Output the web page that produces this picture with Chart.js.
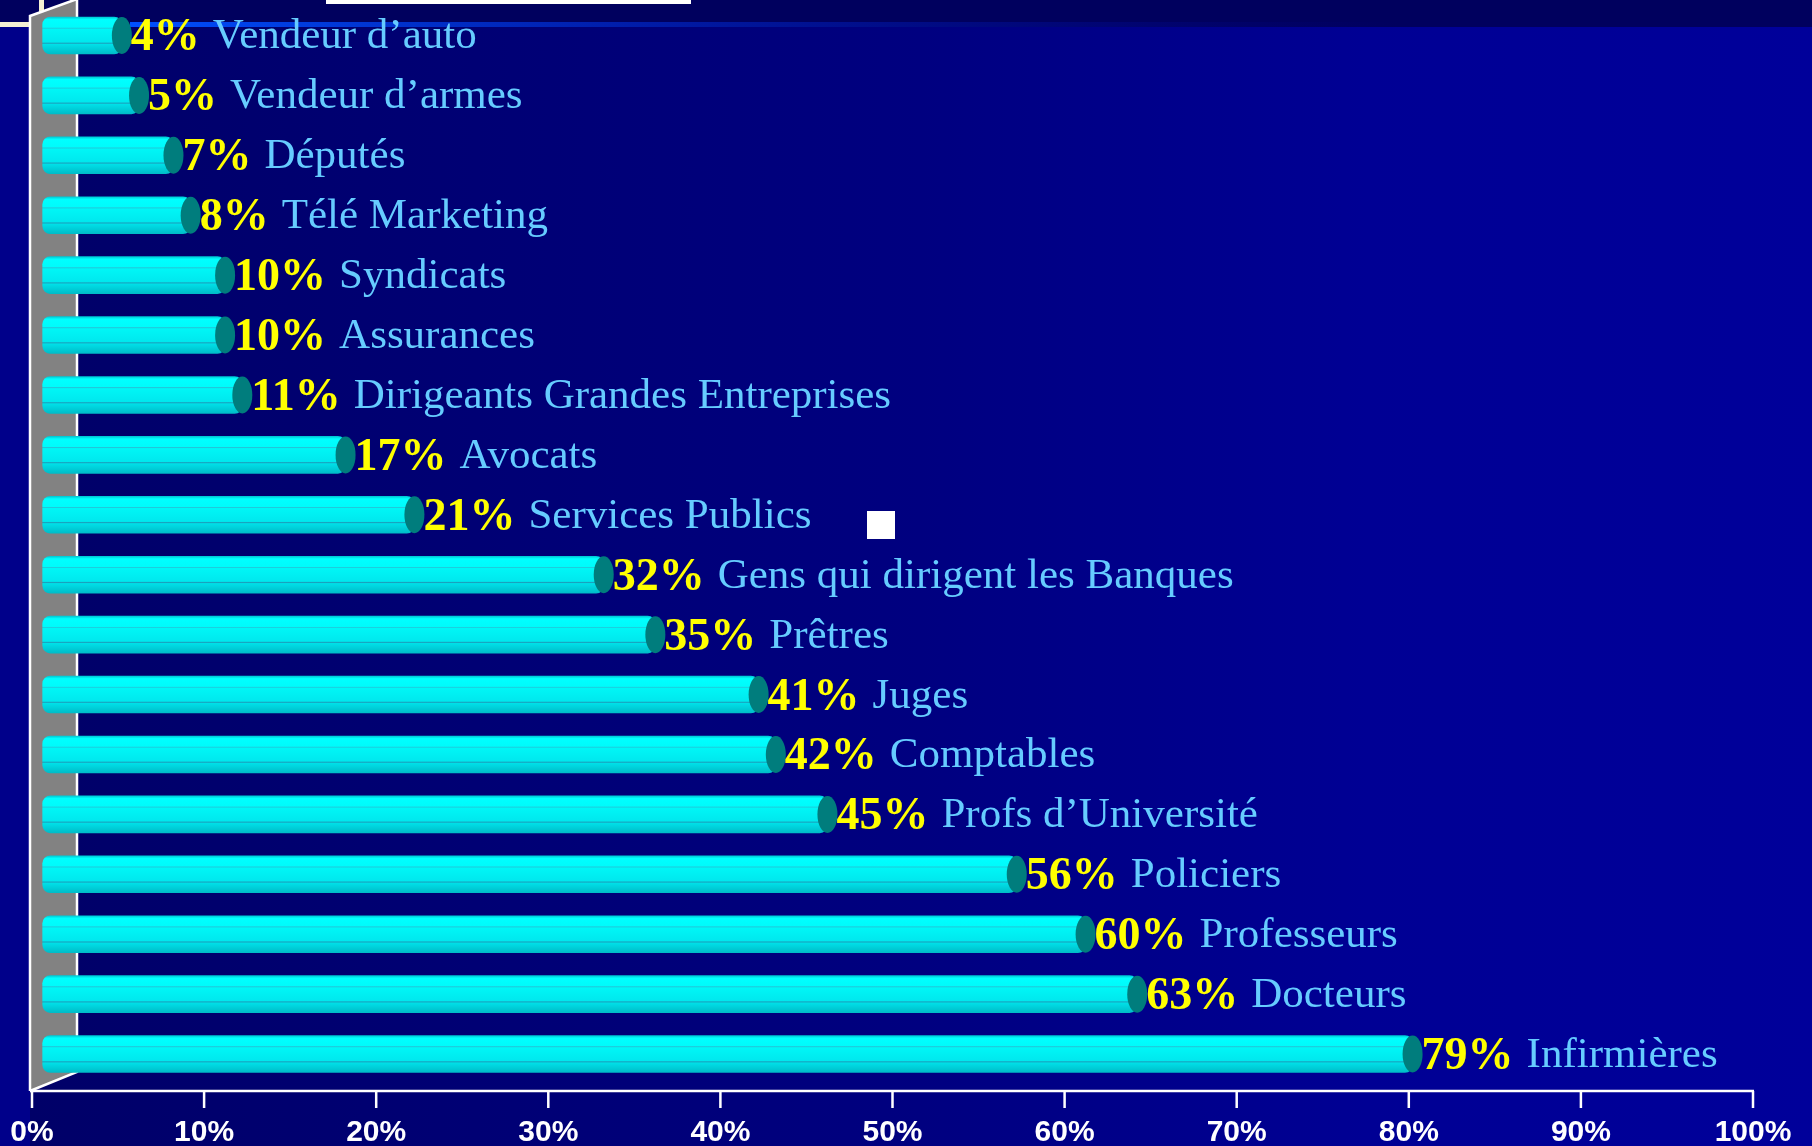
<!DOCTYPE html>
<html>
<head>
<meta charset="utf-8">
<title>Confiance par profession</title>
<script src="https://cdn.jsdelivr.net/npm/chart.js@4.4.1/dist/chart.umd.min.js"></script>
<style>
  html, body { margin: 0; padding: 0; background: #000070; overflow: hidden; }
</style>
</head>
<body>
<canvas id="trust" width="1812" height="1146"></canvas>
<script>
// professions, top to bottom as on the slide
let professions = ["Vendeur d’auto", "Vendeur d’armes", "Députés", "Télé Marketing", "Syndicats",
  "Assurances", "Dirigeants Grandes Entreprises", "Avocats", "Services Publics",
  "Gens qui dirigent les Banques", "Prêtres", "Juges", "Comptables", "Profs d’Université",
  "Policiers", "Professeurs", "Docteurs", "Infirmières"];
let percents = [4, 5, 7, 8, 10, 10, 11, 17, 21, 32, 35, 41, 42, 45, 56, 60, 63, 79];
let xTicks = [0, 10, 20, 30, 40, 50, 60, 70, 80, 90, 100];

const SERIF = "'Liberation Serif', 'Times New Roman', serif";
const SANS = "'Liberation Sans', Arial, sans-serif";
const SHIFT = 21;      // 3d depth offset of the bars
const CAP_RX = 10;

function tubeFill(c) {
  let chart = c.chart;
  if (!chart.chartArea) return '#00f0f0';
  let y = chart.scales.y.getPixelForValue(c.dataIndex);
  let top = y - 18.5, h = 37;
  let g = chart.ctx.createLinearGradient(0, top, 0, top + h);
  g.addColorStop(0, '#00c8d4');
  g.addColorStop(0.07, '#00ffff');
  g.addColorStop(0.28, '#00fbfb');
  g.addColorStop(0.30, '#22c4d8');
  g.addColorStop(0.33, '#00f6f6');
  g.addColorStop(0.68, '#00e8ee');
  g.addColorStop(0.71, '#1aa0bc');
  g.addColorStop(0.74, '#00e0e8');
  g.addColorStop(1, '#00bcc8');
  return g;
}

const backdrop = {
  id: 'backdrop',
  beforeDraw(chart) {
    let ctx = chart.ctx;
    let W = chart.width, H = chart.height;
    let bottom = chart.chartArea.bottom + 7;
    ctx.save();
    let bg = ctx.createLinearGradient(30, 0, W, 0);
    bg.addColorStop(0, '#000068');
    bg.addColorStop(0.5, '#000080');
    bg.addColorStop(0.75, '#000094');
    bg.addColorStop(1, '#00009a');
    ctx.fillStyle = bg;
    ctx.fillRect(0, 0, W, H);
    // left strip and top band of the slide template
    ctx.fillStyle = '#00008a';
    ctx.fillRect(0, 27, 30, H - 27);
    ctx.fillStyle = '#00005e';
    ctx.fillRect(0, 0, W, 27);
    let band = ctx.createLinearGradient(130, 0, 1400, 0);
    band.addColorStop(0, 'rgba(0,80,255,1)');
    band.addColorStop(0.4, 'rgba(0,40,200,0.7)');
    band.addColorStop(1, 'rgba(0,0,150,0)');
    ctx.fillStyle = band;
    ctx.fillRect(130, 22, 1300, 5);
    ctx.fillStyle = '#f4f0d4';
    ctx.fillRect(0, 22, 30, 5);
    ctx.fillRect(39, 0, 5, 12);
    ctx.fillStyle = '#ffffff';
    ctx.fillRect(326, 0, 365, 4);
    // grey side wall
    ctx.beginPath();
    ctx.moveTo(30, 16);
    ctx.lineTo(77, -1);
    ctx.lineTo(77, bottom - 19);
    ctx.lineTo(30, bottom);
    ctx.closePath();
    ctx.fillStyle = '#828282';
    ctx.fill();
    ctx.strokeStyle = '#ffffff';
    ctx.lineWidth = 2.5;
    ctx.beginPath();
    ctx.moveTo(30, bottom);
    ctx.lineTo(30, 16);
    ctx.lineTo(77, -1);
    ctx.moveTo(77, 0);
    ctx.lineTo(77, bottom - 19);
    ctx.lineTo(30, bottom);
    ctx.stroke();
    // floor axis and ticks
    let xs = chart.scales.x;
    ctx.beginPath();
    ctx.moveTo(30, bottom);
    ctx.lineTo(xs.getPixelForValue(100) + 1, bottom);
    xTicks.forEach(v => {
      let px = xs.getPixelForValue(v);
      ctx.moveTo(px, bottom);
      ctx.lineTo(px, bottom + 17);
    });
    ctx.stroke();
    // stray bullet left on the slide
    ctx.fillStyle = '#ffffff';
    ctx.fillRect(867, 511, 28, 28);
    ctx.restore();
  },
  beforeDatasetsDraw(chart) {
    chart.ctx.save();
    chart.ctx.translate(SHIFT, 0);
  },
  afterDatasetsDraw(chart) {
    let ctx = chart.ctx;
    let meta = chart.getDatasetMeta(0);
    meta.data.forEach(el => {
      ctx.beginPath();
      ctx.ellipse(el.x, el.y, CAP_RX, 18.5, 0, 0, Math.PI * 2);
      ctx.fillStyle = '#007d7d';
      ctx.fill();
    });
    ctx.restore();

    // value and profession labels
    ctx.save();
    ctx.textBaseline = 'alphabetic';
    meta.data.forEach((el, i) => {
      let x = el.x + SHIFT + CAP_RX - 1;
      let y = el.y + 15;
      let pct = percents[i] + '%';
      ctx.font = 'bold 46px ' + SERIF;
      ctx.fillStyle = '#ffff00';
      ctx.fillText(pct, x, y);
      let w = ctx.measureText(pct).width;
      ctx.font = '43px ' + SERIF;
      ctx.fillStyle = '#66ccff';
      ctx.fillText(professions[i], x + w + 13, y - 2);
    });
    ctx.restore();
  }
};

let chart = new Chart(document.getElementById('trust'), {
  type: 'bar',
  data: {
    labels: professions,
    datasets: [{
      data: percents,
      base: -0.6,
      clip: false,
      backgroundColor: tubeFill,
      borderWidth: 0,
      borderRadius: 8,
      borderSkipped: false,
      barThickness: 37
    }]
  },
  options: {
    indexAxis: 'y',
    responsive: false,
    animation: false,
    devicePixelRatio: 1,
    layout: { padding: { top: 5.5, left: 32, right: 59, bottom: 0 } },
    plugins: {
      legend: { display: false },
      tooltip: { enabled: false }
    },
    scales: {
      y: { display: false, offset: true },
      x: {
        type: 'linear',
        min: 0,
        max: 100,
        afterBuildTicks: (scale) => { scale.ticks = xTicks.map(v => ({ value: v })); },
        afterFit: (scale) => {
          scale.height = 62;
          scale.paddingLeft = 0;
          scale.paddingRight = 0;
        },
        grid: { display: false, drawTicks: false },
        border: { display: false },
        ticks: {
          color: '#ffffff',
          font: { family: SANS, size: 30, weight: 'bold' },
          padding: 31,
          maxRotation: 0,
          callback: (v) => v + '%'
        }
      }
    }
  },
  plugins: [backdrop]
});
</script>
</body>
</html>
